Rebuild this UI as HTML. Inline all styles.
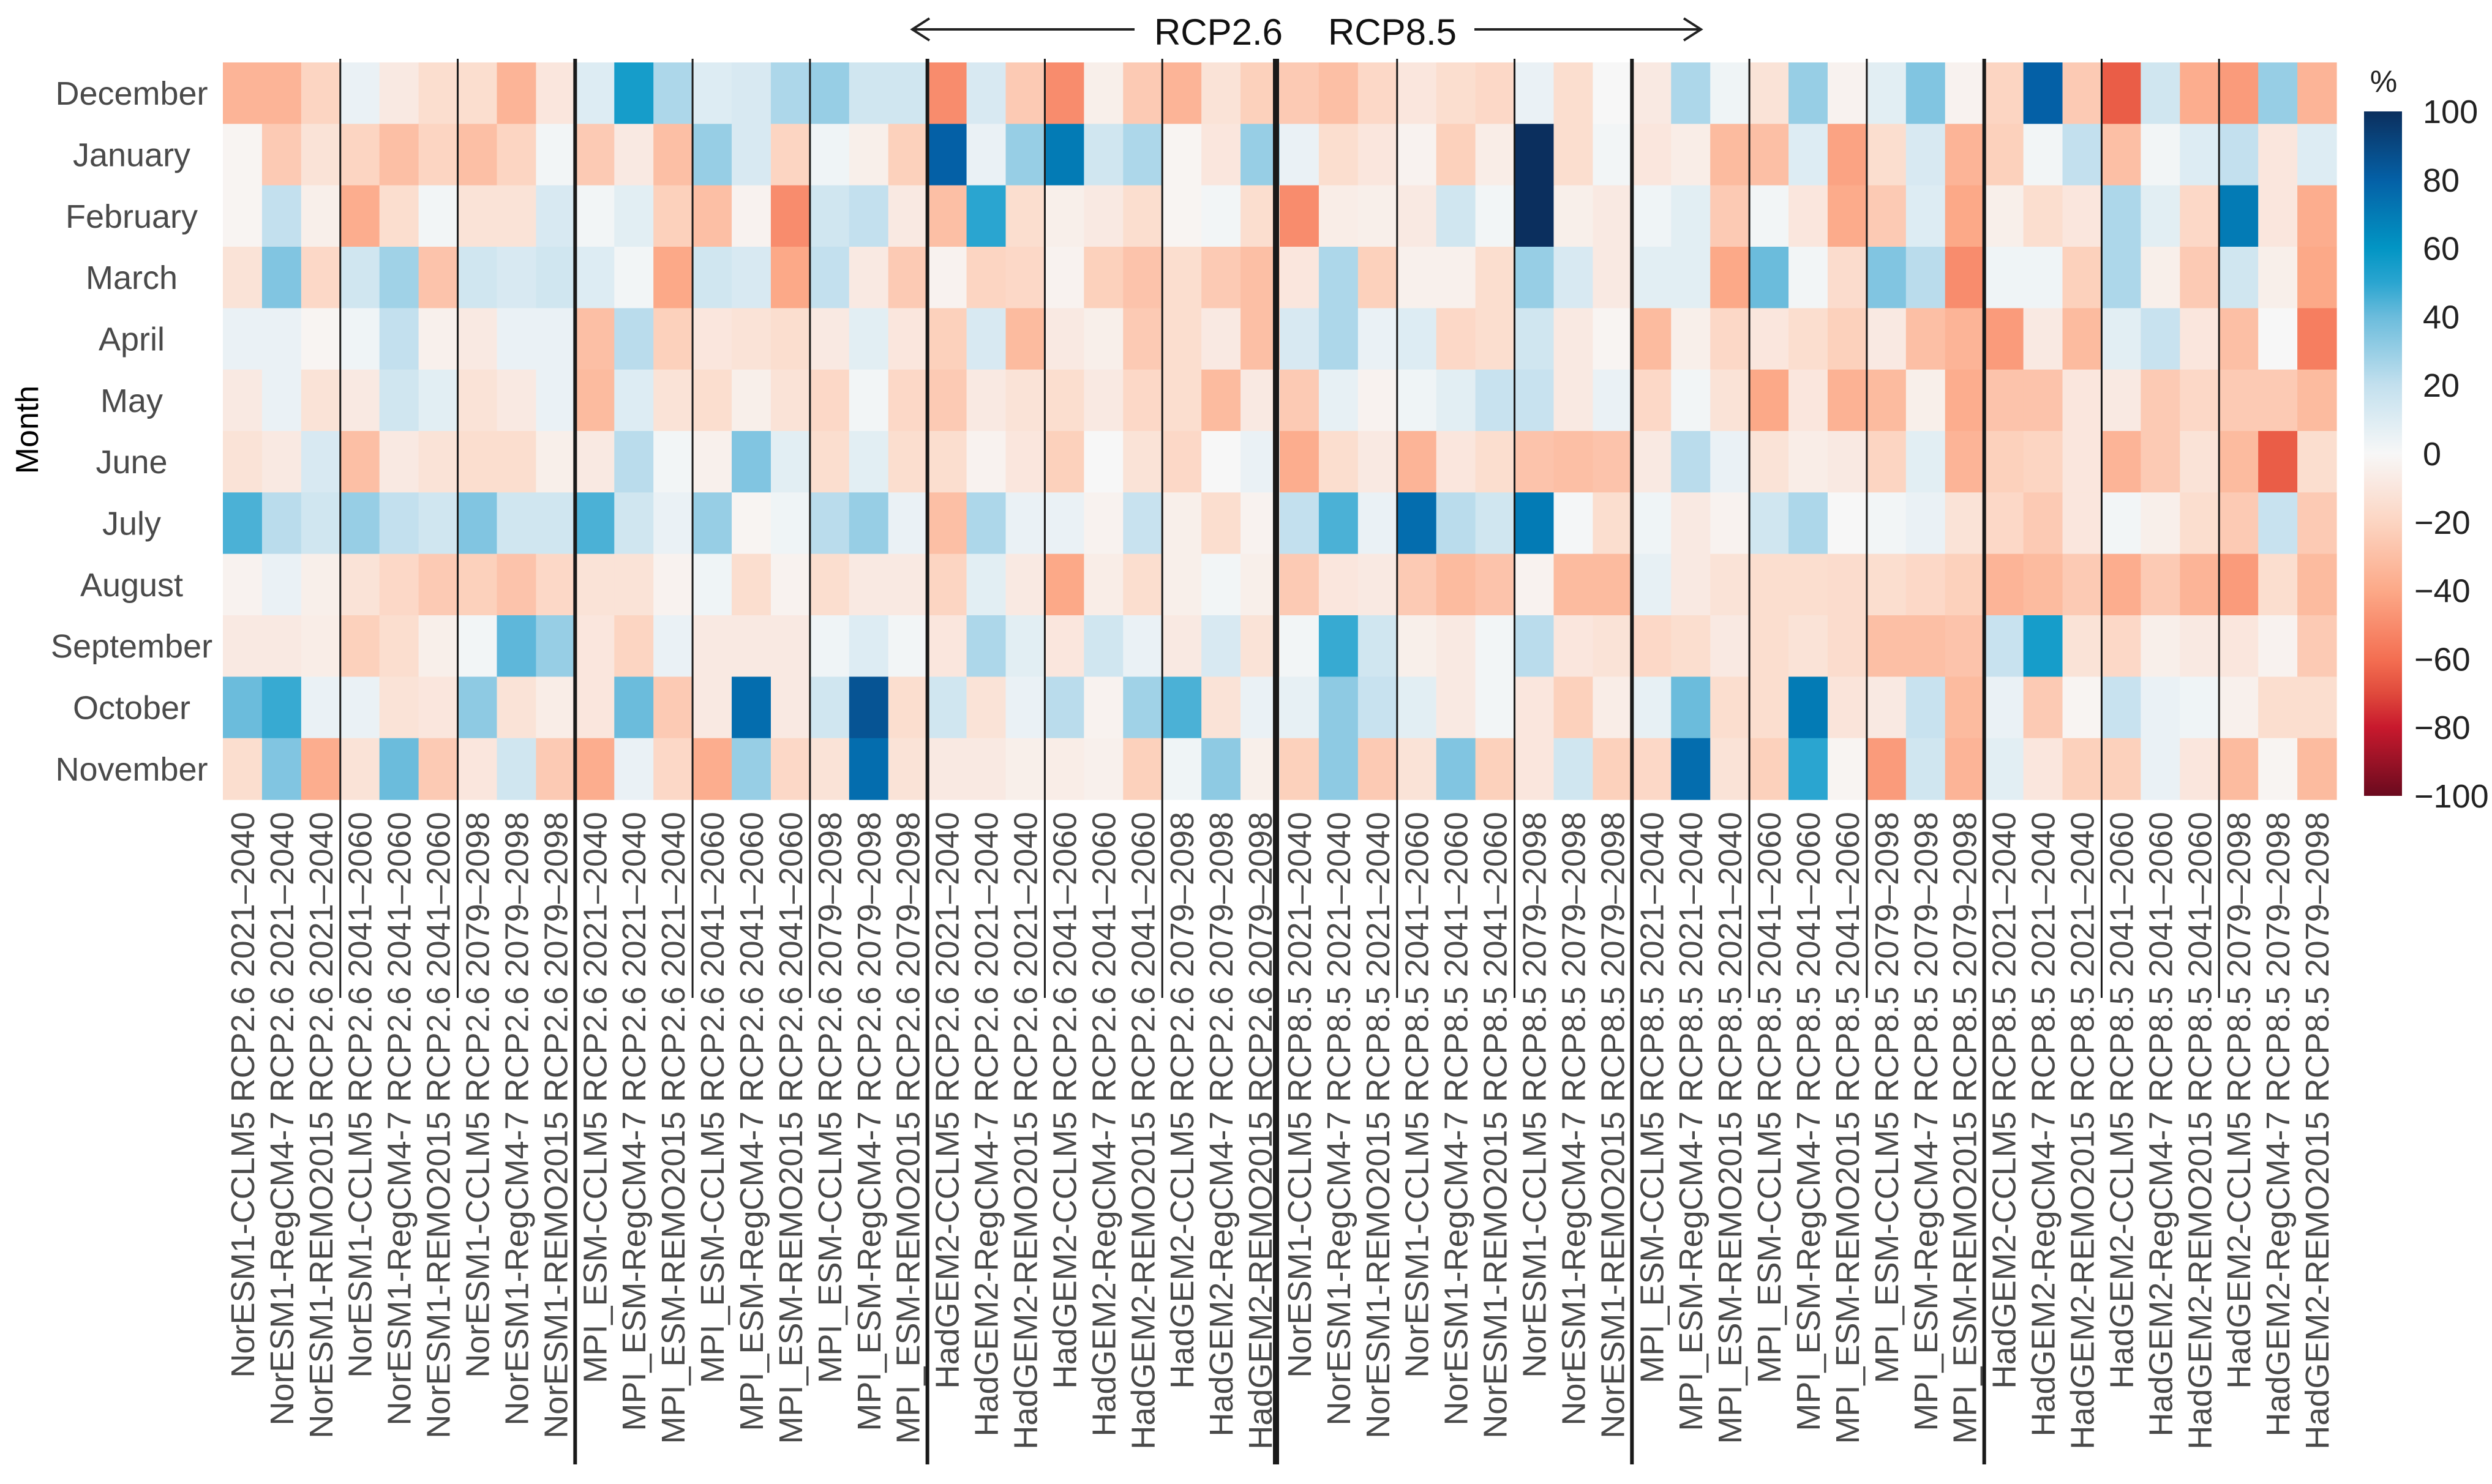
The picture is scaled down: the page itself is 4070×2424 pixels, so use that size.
<!DOCTYPE html>
<html><head><meta charset="utf-8"><style>
html,body{margin:0;padding:0;background:#fff;}
svg{display:block;font-family:"Liberation Sans",sans-serif;}
</style></head><body>
<svg id="chart" width="4070" height="2424" viewBox="0 0 4070 2424" xmlns="http://www.w3.org/2000/svg">
<rect width="4070" height="2424" fill="#fff"/>
<g id="cells"></g>
<g id="lines"></g>
<g id="xlabels"></g>
<g id="ylabels"></g>
<text transform="translate(62,702) rotate(-90)" text-anchor="middle" font-size="52" fill="#000">Month</text>
<g>
<line x1="1492" y1="48" x2="1853" y2="48" stroke="#222" stroke-width="4"/>
<polyline points="1518,30 1490,48 1518,66" fill="none" stroke="#222" stroke-width="4"/>
<text x="1990" y="73" text-anchor="middle" font-size="60" fill="#111">RCP2.6</text>
<text x="2274" y="73" text-anchor="middle" font-size="60" fill="#111">RCP8.5</text>
<line x1="2408" y1="48" x2="2776" y2="48" stroke="#222" stroke-width="4"/>
<polyline points="2750,30 2778,48 2750,66" fill="none" stroke="#222" stroke-width="4"/>
</g>
<defs><linearGradient id="cbgrad" x1="0" y1="0" x2="0" y2="1"></linearGradient></defs>
<g id="colorbar">
<text x="3893" y="150" text-anchor="middle" font-size="50" fill="#222">%</text>
<rect x="3861" y="182" width="62" height="1118" fill="url(#cbgrad)"/>
</g>
</svg>
<script>
const months = ["December","January","February","March","April","May","June","July","August","September","October","November"];
const rcps = ["RCP2.6","RCP8.5"];
const gcms = ["NorESM1","MPI_ESM","HadGEM2"];
const periods = ["2021–2040","2041–2060","2079–2098"];
const rcms = ["CCLM5","RegCM4-7","REMO2015"];
const cbTicks = [100,80,60,40,20,0,-20,-40,-60,-80,-100];
const vDec = [-35,-35,-20,5,-8,-15,-15,-35,-10,10,55,25,10,12,25,30,15,15,-50,12,-25,-50,-5,-25,-35,-12,-22,-25,-30,-18,-10,-15,-18,5,-15,0,-8,25,3,-12,30,-3,8,35,-3,-20,80,-25,-65,15,-38,-45,30,-35];
const vJan = [-2,-25,-12,-20,-30,-20,-30,-20,2,-25,-8,-30,30,12,-20,3,-5,-22,80,5,30,70,15,25,-2,-10,30,5,-15,-10,-3,-22,-6,100,-15,2,-10,-6,-32,-30,10,-42,-15,12,-35,-22,2,20,-30,2,10,20,-10,10];
const vFeb = [-2,20,-5,-38,-15,2,-12,-12,12,2,8,-22,-30,-3,-50,15,20,-8,-30,50,-15,-5,-8,-15,-2,2,-15,-50,-6,-5,-8,15,2,100,-5,-8,3,8,-25,2,-10,-39,-25,10,-40,-5,-15,-10,25,8,-18,70,-10,-38];
const vMar = [-12,35,-18,15,28,-28,15,12,15,10,2,-40,15,12,-40,20,-8,-25,-3,-20,-18,-3,-22,-28,-15,-25,-30,-10,25,-22,-4,-4,-15,30,12,-8,8,8,-40,40,2,-16,35,22,-50,3,3,-22,25,-5,-25,15,-5,-40];
const vApr = [5,5,-2,3,20,-4,-8,5,5,-30,22,-22,-10,-12,-15,-8,8,-10,-22,12,-32,-8,-5,-25,-15,-8,-30,12,25,5,10,-18,-15,15,-8,-2,-32,-5,-18,-10,-15,-22,-8,-30,-35,-45,-8,-32,8,18,-10,-30,0,-55];
const vMay = [-8,5,-12,-8,15,8,-12,-8,5,-32,10,-12,-15,-5,-12,-18,2,-18,-25,-8,-12,-15,-8,-18,-15,-32,-8,-25,6,-3,3,8,18,18,-8,5,-18,2,-12,-40,-10,-36,-32,-5,-38,-28,-28,-10,-8,-25,-18,-25,-25,-32];
const vJun = [-12,-8,12,-30,-8,-12,-15,-15,-5,-8,22,2,-4,35,8,-15,8,-15,-15,-3,-10,-22,0,-12,-18,0,5,-38,-15,-8,-35,-10,-15,-28,-30,-28,-8,22,5,-12,-6,-8,-20,8,-35,-22,-20,-10,-35,-25,-12,-32,-65,-15];
const vJul = [45,22,15,30,20,15,35,15,15,45,15,5,30,-2,3,22,30,5,-30,25,5,5,-3,18,-5,-15,-3,20,45,5,75,22,15,70,1,-15,3,-8,-3,15,25,0,2,5,-12,-18,-25,-10,2,-5,-15,-25,18,-25];
const vAug = [-3,5,-5,-12,-18,-25,-22,-28,-18,-12,-12,-3,3,-15,-3,-15,-8,-8,-20,8,-8,-40,-6,-15,-5,2,-5,-25,-10,-8,-25,-32,-28,-3,-32,-32,6,-8,-12,-15,-15,-16,-15,-18,-22,-35,-32,-25,-38,-25,-35,-45,-15,-32];
const vSep = [-8,-8,-6,-22,-15,-5,2,42,30,-10,-20,5,-8,-8,-8,3,10,2,-10,25,8,-10,15,5,-8,12,-12,2,48,15,-5,-8,2,22,-10,-12,-18,-15,-8,-15,-12,-16,-30,-30,-28,18,55,-12,-18,-5,-8,-10,-3,-25];
const vOct = [40,48,5,5,-12,-10,32,-12,-6,-10,40,-25,-8,75,-8,15,85,-15,15,-12,5,22,-3,28,45,-12,5,6,32,18,8,-8,2,-10,-22,-6,6,40,-15,-15,70,-11,-8,18,-32,5,-25,-2,18,5,3,-4,-15,-15];
const vNov = [-15,35,-38,-12,40,-25,-10,15,-25,-38,5,-18,-38,30,-18,-12,75,-12,-8,-8,-5,-6,-4,-22,3,32,-5,-22,32,-25,-12,35,-22,-10,15,-22,-18,75,-12,-22,50,-2,-45,15,-35,8,-10,-22,-22,5,-10,-32,-2,-32];
const rowValues = [vDec,vJan,vFeb,vMar,vApr,vMay,vJun,vJul,vAug,vSep,vOct,vNov];

const NS = "http://www.w3.org/2000/svg";
const X0 = 364, X1 = 3816, Y0 = 102, Y1 = 1306;
const columns = [];
rcps.forEach(r => gcms.forEach(g => periods.forEach(p => rcms.forEach(m => columns.push(g + "-" + m + " " + r + " " + p)))));
const nC = columns.length, nR = months.length;
const cw = (X1 - X0) / nC, rh = (Y1 - Y0) / nR;
function xScale(i){ return X0 + i * cw; }
function yScale(j){ return Y0 + j * rh; }

const stops = [[-100,[106,10,30]],[-80,[200,25,45]],[-70,[224,74,60]],[-60,[244,111,82]],[-40,[252,169,136]],[-20,[252,213,194]],[0,[247,247,247]],[20,[195,224,238]],[40,[107,188,220]],[50,[42,165,208]],[60,[2,149,196]],[80,[4,96,166]],[100,[11,47,94]]];
function color(v){
  v = Math.max(-100, Math.min(100, v));
  for (let k = 0; k < stops.length - 1; k++){
    const a = stops[k], b = stops[k+1];
    if (v >= a[0] && v <= b[0]){
      const t = (v - a[0]) / (b[0] - a[0]);
      const c = a[1].map((x, i) => Math.round(x + (b[1][i] - x) * t));
      return "rgb(" + c.join(",") + ")";
    }
  }
  return "#f7f7f7";
}

const cells = document.getElementById("cells");
rowValues.forEach((row, j) => {
  row.forEach((v, i) => {
    const r = document.createElementNS(NS, "rect");
    r.setAttribute("x", xScale(i).toFixed(2));
    r.setAttribute("y", yScale(j).toFixed(2));
    r.setAttribute("width", (cw + 0.6).toFixed(2));
    r.setAttribute("height", (rh + 0.6).toFixed(2));
    r.setAttribute("fill", color(v));
    
    
    cells.appendChild(r);
  });
});

const lines = document.getElementById("lines");
for (let k = 3; k < nC; k += 3){
  const x = xScale(k) - (k === 27 ? 6 : 0);
  const major = k % 9 === 0;
  const l = document.createElementNS(NS, "line");
  l.setAttribute("x1", x); l.setAttribute("x2", x);
  l.setAttribute("y1", 96);
  l.setAttribute("y2", major ? 2392 : 1630);
  l.setAttribute("stroke", "#1a1a1a");
  l.setAttribute("stroke-width", k === 27 ? 10 : (major ? 6 : 3));
  
  
  lines.appendChild(l);
}

const xl = document.getElementById("xlabels");
columns.forEach((lab, i) => {
  const t = document.createElementNS(NS, "text");
  const cx = xScale(i) + cw / 2 + 19;
  t.setAttribute("transform", "translate(" + cx.toFixed(1) + ",1326) rotate(-90)");
  t.setAttribute("text-anchor", "end");
  t.setAttribute("font-size", "54");
  t.setAttribute("fill", "#4a4a4a");
  t.textContent = lab;
  
  
  xl.appendChild(t);
});

const yl = document.getElementById("ylabels");
months.forEach((m, j) => {
  const t = document.createElementNS(NS, "text");
  t.setAttribute("x", 215);
  t.setAttribute("y", (yScale(j) + rh / 2 + 19).toFixed(1));
  t.setAttribute("text-anchor", "middle");
  t.setAttribute("font-size", "54");
  t.setAttribute("fill", "#4a4a4a");
  t.textContent = m;
  
  
  yl.appendChild(t);
});

const grad = document.getElementById("cbgrad");
for (let v = 100; v >= -100; v -= 10){
  const s = document.createElementNS(NS, "stop");
  s.setAttribute("offset", ((100 - v) / 200).toFixed(3));
  s.setAttribute("stop-color", color(v));
  grad.appendChild(s);
}
const cb = document.getElementById("colorbar");
const CB0 = 182, CB1 = 1300;
function cbScale(v){ return CB0 + (100 - v) / 200 * (CB1 - CB0); }
cbTicks.forEach(v => {
  const t = document.createElementNS(NS, "text");
  t.setAttribute("x", v < 0 ? 3943 : 3957);
  t.setAttribute("y", (cbScale(v) + 19).toFixed(1));
  t.setAttribute("font-size", "54");
  t.setAttribute("fill", "#222");
  t.textContent = v < 0 ? "−" + Math.abs(v) : String(v);
  
  
  cb.appendChild(t);
});
</script>
</body></html>
